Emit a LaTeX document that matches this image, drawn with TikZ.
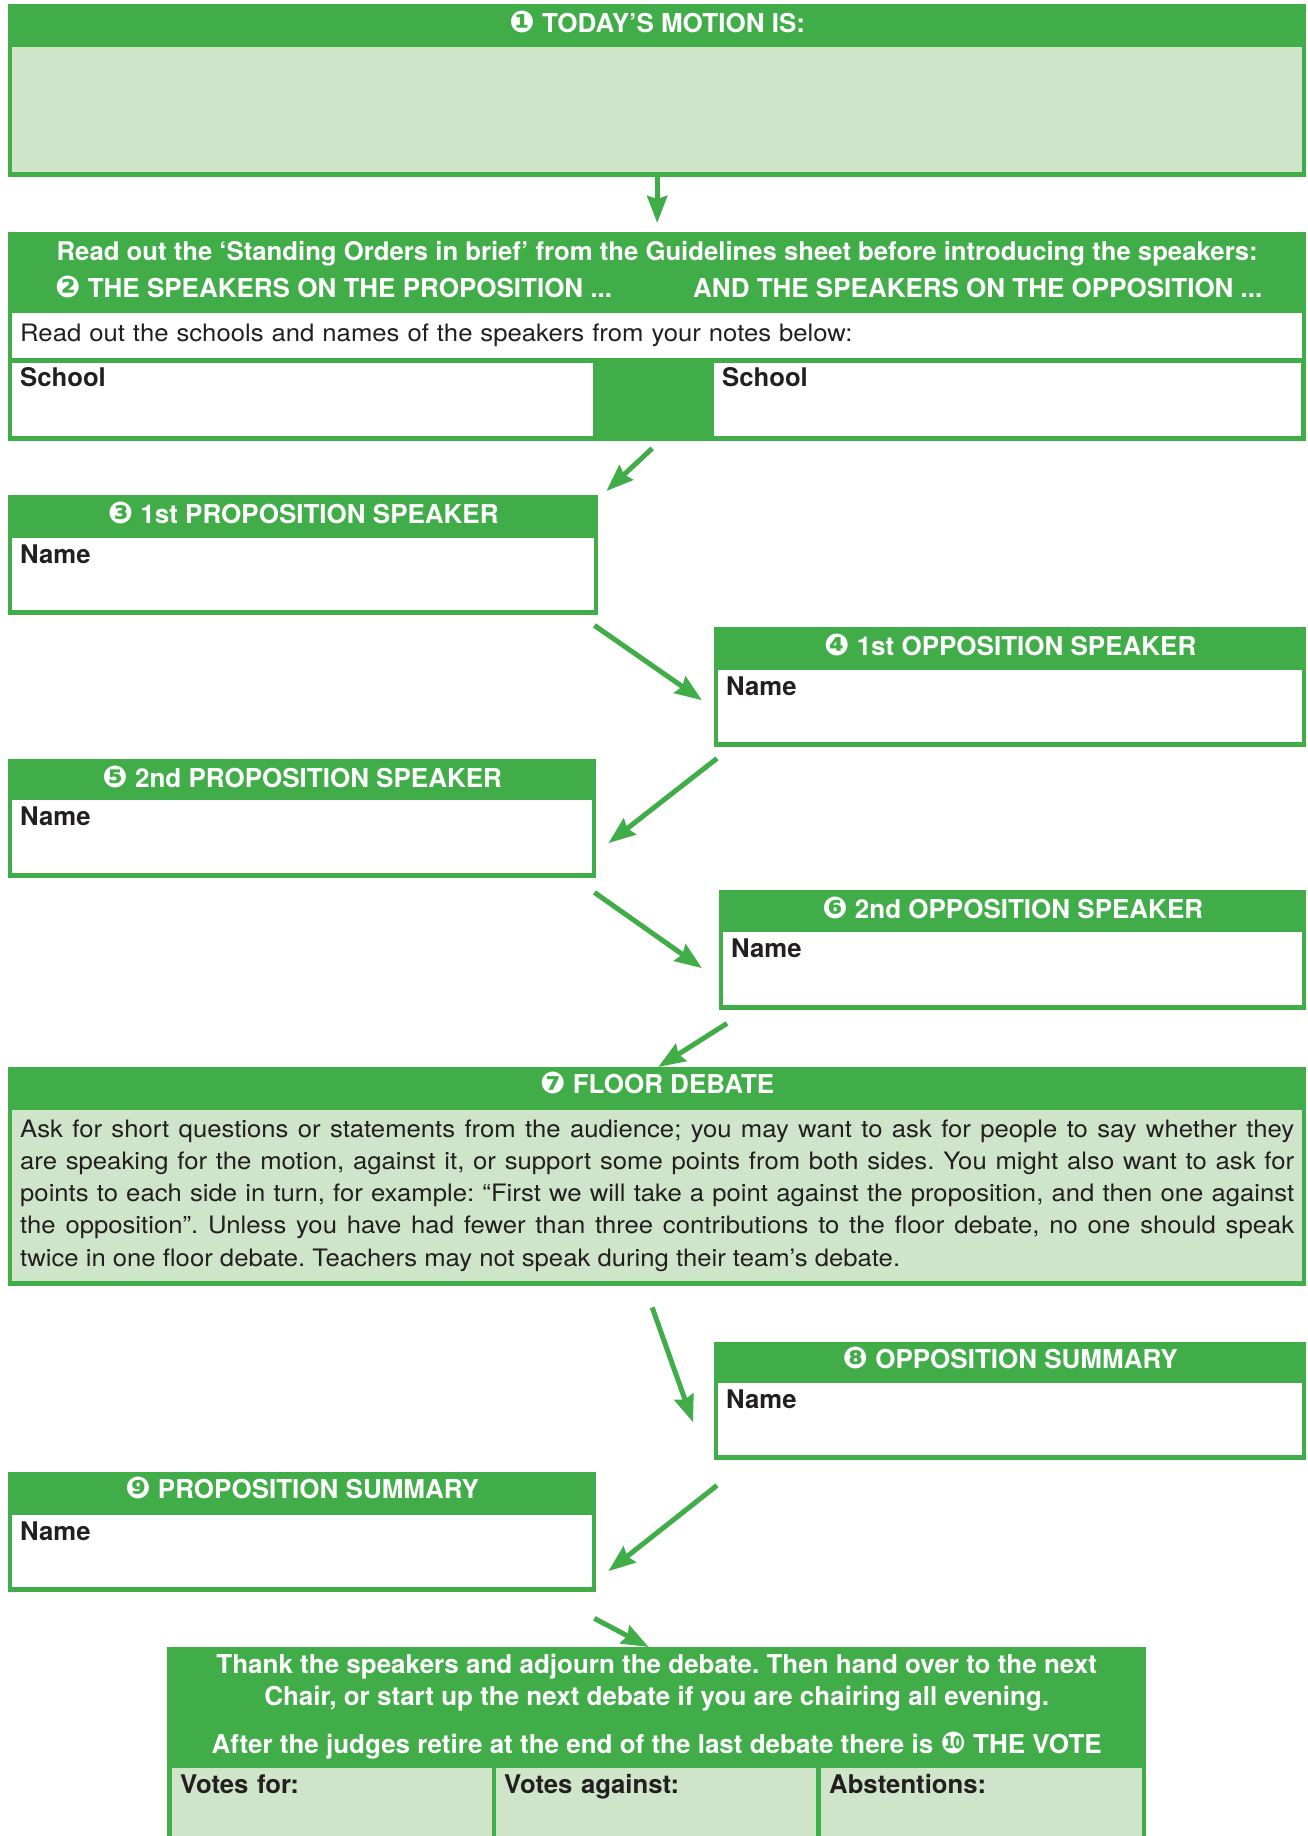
\documentclass[tikz,border=0pt]{standalone}
\usepackage{fontspec}
\setmainfont{TeX Gyre Heros}
\newfontfamily\bodyface[FakeStretch=1.07]{TeX Gyre Heros}
\newfontfamily\dingfont{DejaVu Sans}
\usetikzlibrary{positioning, arrows.meta}
\frenchspacing

\definecolor{dgreen}{HTML}{41AD49}
\definecolor{lgreen}{HTML}{CFE5C9}
\definecolor{ink}{HTML}{231F20}

\newcommand{\headfont}{\bfseries\fontsize{26}{30}\selectfont}
\newcommand{\labfont}{\bfseries\fontsize{25.7}{30}\selectfont}
\newcommand{\bodyfont}{\bodyface\fontsize{24}{32.2}\selectfont}
\newcommand{\dnum}[1]{{\dingfont\fontsize{30}{30}\selectfont #1}}

\tikzstyle{panel} = [rectangle, fill=dgreen, text=white, font=\headfont, anchor=north west, inner sep=0pt, text height=28pt]
\tikzstyle{field} = [rectangle, fill=white, text=ink, font=\labfont, anchor=north west, inner xsep=8pt, inner ysep=0pt, text height=25pt, align=left]
\tikzstyle{arrow} = [draw=dgreen, line width=5pt, -{Stealth[length=27pt,width=20pt,inset=3pt]}]

\begin{document}
\begin{tikzpicture}[x=1pt, y=-1pt]
    \useasboundingbox (0,0) rectangle (1308,1836);

    % motion
    \node (p1) [panel, minimum width=1298pt, text depth=145pt] at (8,4) {\dnum{❶} TODAY’S MOTION IS:};
    \node (f1) [field, fill=lgreen, text width=1274pt, text depth=100pt] at (12,47) {};

    % speakers
    \node (p2) [panel, minimum width=1298pt, text depth=181pt, font=\bfseries\fontsize{25.7}{30}\selectfont] at (8,232) {Read out the ‘Standing Orders in brief’ from the Guidelines sheet before introducing the speakers:};
    \node (pp) [anchor=base west, text=white, font=\headfont, inner sep=0pt] at (55,297) {\dnum{❷} THE SPEAKERS ON THE PROPOSITION ...};
    \node (po) [anchor=base west, text=white, font=\headfont, inner sep=0pt] at (693,297) {AND THE SPEAKERS ON THE OPPOSITION ...};
    \node (notes) [field, font=\bodyfont, text width=1274pt, text height=28.5pt, text depth=16.5pt] at (12,313) {Read out the schools and names of the speakers from your notes below:};
    \node (s1) [field, text width=565pt, text height=23.5pt, text depth=49.5pt] at (12,363) {School};
    \node (s2) [field, text width=571pt, text height=23.5pt, text depth=49.5pt] at (714,363) {School};

    % speeches
    \node (p3) [panel, minimum width=590pt, text depth=92pt] at (8,495) {\dnum{❸} 1st PROPOSITION SPEAKER};
    \node (f3) [field, text width=566pt, text depth=47pt] at (12,538) {Name};
    \node (p4) [panel, minimum width=592pt, text depth=92pt] at (714,627) {\dnum{❹} 1st OPPOSITION SPEAKER};
    \node (f4) [field, text width=568pt, text depth=47pt] at (718,670) {Name};
    \node (p5) [panel, minimum width=588pt, text depth=91pt] at (8,759) {\dnum{❺} 2nd PROPOSITION SPEAKER};
    \node (f5) [field, text width=564pt, text depth=48pt] at (12,800) {Name};
    \node (p6) [panel, minimum width=587pt, text depth=92pt] at (719,890) {\dnum{❻} 2nd OPPOSITION SPEAKER};
    \node (f6) [field, text width=563pt, text depth=48pt] at (723,932) {Name};

    % floor
    \node (p7) [panel, minimum width=1298pt, text height=26pt, text depth=193pt] at (8,1067) {\dnum{❼} FLOOR DEBATE};
    \node (f7) [field, fill=lgreen, text width=1274pt, text depth=146pt] at (12,1110) {};
    \node (t7) [anchor=north west, inner sep=0pt, text width=1274pt, align=justify, font=\bodyfont, text=ink] at ([xshift=8pt]f7.north west) {\rule{0pt}{27pt}Ask for short questions or statements from the audience; you may want to ask for people to say whether they\linebreak are speaking for the motion, against it, or support some points from both sides. You might also want to ask for\linebreak points to each side in turn, for example: “First we will take a point against the proposition, and then one against\linebreak the opposition”. Unless you have had fewer than three contributions to the floor debate, no one should speak\linebreak twice in one floor debate. Teachers may not speak during their team’s debate.};

    % summaries
    \node (p8) [panel, minimum width=592pt, text height=26pt, text depth=92pt] at (714,1342) {\dnum{❽} OPPOSITION SUMMARY};
    \node (f8) [field, text width=568pt, text depth=47pt] at (718,1383) {Name};
    \node (p9) [panel, minimum width=588pt, text height=26pt, text depth=94pt] at (8,1472) {\dnum{❾} PROPOSITION SUMMARY};
    \node (f9) [field, text width=564pt, text depth=47pt] at (12,1515) {Name};

    % vote
    \node (p10) [panel, minimum width=979pt, text height=0pt, text depth=189pt] at (167,1647) {};
    \node (t10) [anchor=north, inner sep=0pt, align=center, text=white, font=\bfseries\fontsize{26}{32}\selectfont] at (p10.north) {\rule{0pt}{26pt}Thank the speakers and adjourn the debate. Then hand over to the next\\ Chair, or start up the next debate if you are chairing all evening.\\[16pt] After the judges retire at the end of the last debate there is \dnum{❿} THE VOTE};
    \node (v1) [field, fill=lgreen, text width=304pt, text depth=43pt] at (172,1768) {Votes for:};
    \node (v2) [field, fill=lgreen, text width=304pt, text depth=43pt] at (496,1768) {Votes against:};
    \node (v3) [field, fill=lgreen, text width=305pt, text depth=43pt] at (821,1768) {Abstentions:};

    \draw [arrow] (p1.south) -- ([yshift=9pt]p2.north);
    \draw [arrow] ([xshift=-5pt,yshift=-7pt]p2.south) -- ([xshift=8pt,yshift=4pt]p3.north east);
    \draw [arrow] ([xshift=-4pt,yshift=-10pt]p3.south east) -- ([xshift=-12pt,yshift=-13pt]p4.west);
    \draw [arrow] ([xshift=3pt,yshift=-11pt]p4.south west) -- ([xshift=12pt,yshift=-24.5pt]p5.east);
    \draw [arrow] ([xshift=-2pt,yshift=-14pt]p5.south east) -- ([xshift=-17pt,yshift=-18pt]p6.west);
    \draw [arrow] ([xshift=8pt,yshift=-13pt]p6.south west) -- ([xshift=1pt]p7.north);
    \draw [arrow] ([xshift=-5pt,yshift=-21pt]p7.south) -- ([xshift=-21pt,yshift=-21pt]p8.west);
    \draw [arrow] ([xshift=3pt,yshift=-25pt]p8.south west) -- ([xshift=12pt,yshift=-39pt]p9.east);
    \draw [arrow] ([xshift=-2pt,yshift=-26pt]p9.south east) -- ([xshift=-8pt]p10.north);
\end{tikzpicture}
\end{document}
